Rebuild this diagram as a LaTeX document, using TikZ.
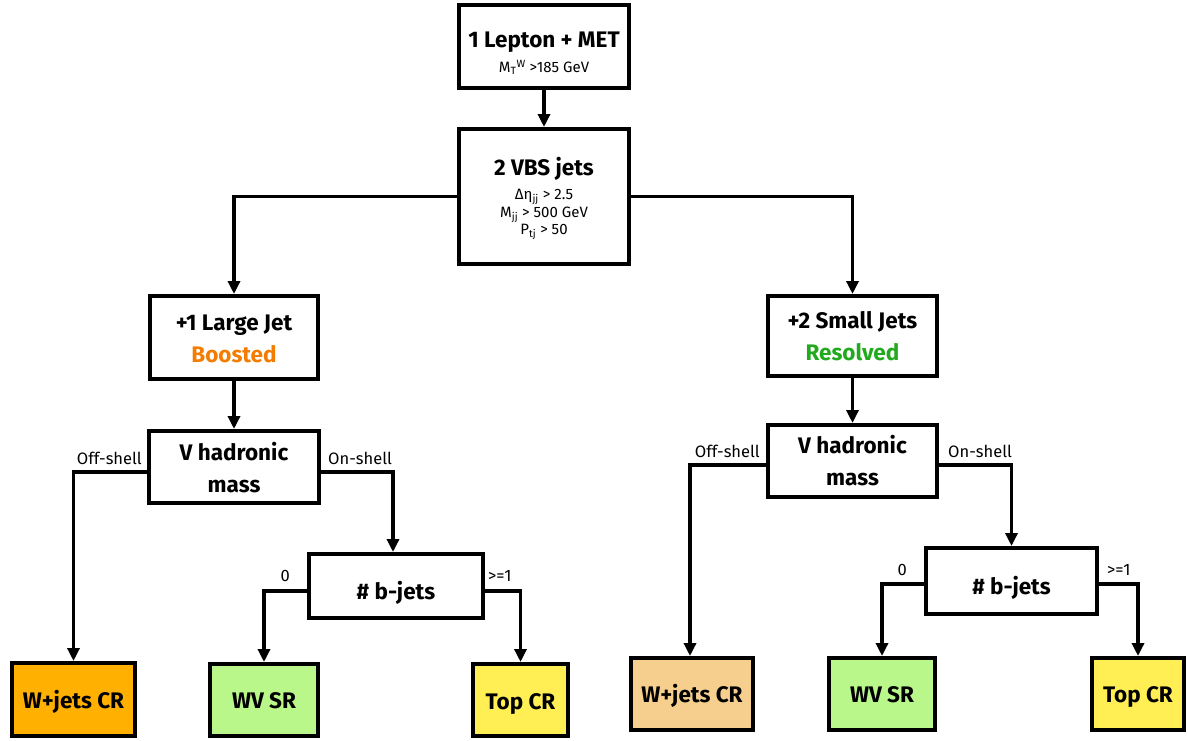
\documentclass[tikz,border=0pt]{standalone}
\usepackage{fontspec}
\setmainfont{Fira Sans}
\usetikzlibrary{arrows.meta}
\definecolor{boostc}{HTML}{F47C00}
\definecolor{resolc}{HTML}{22AA1E}
\definecolor{wjA}{HTML}{FFB000}
\definecolor{wjB}{HTML}{F6CF8F}
\definecolor{wvc}{HTML}{BAF78B}
\definecolor{topc}{HTML}{FFEF55}
\newcommand{\subf}{\normalfont\fontsize{15}{17}\selectfont}
\newcommand{\dn}[2]{\raisebox{-#1}[\height][\depth]{\begin{tabular}{@{}c@{}}#2\end{tabular}}}
\begin{document}
\begin{tikzpicture}[x=1pt,y=-1pt,
 box/.style={draw, line width=4pt, align=center, inner sep=0pt, font=\bfseries\fontsize{22.5}{28}\selectfont},
 conn/.style={line width=3.5pt, -{Triangle[length=13pt,width=12pt]}},
 lbl/.style={font=\fontsize{16.5}{18}\selectfont, inner sep=1pt}]
\useasboundingbox (0,0) rectangle (1188,740);

\node[box, minimum width=170pt, minimum height=83pt] (top) at (544,46.5)
  {\dn{8pt}{1 Lepton + MET\\[-3pt] {\subf M\textsubscript{T}\textsuperscript{W} >185 GeV}}};
\node[box, minimum width=170pt, minimum height=135pt] (vbs) at (544,196.5)
  {\dn{3pt}{2 VBS jets\\[-4pt] {\subf Δη\textsubscript{jj} > 2.5}\\[-10.5pt] {\subf M\textsubscript{jj} > 500 GeV}\\[-10.5pt] {\subf P\textsubscript{tj} > 50}}};
\node[box, minimum width=168pt, minimum height=83pt] (lj) at (234,337.5)
  {\dn{3pt}{+1 Large Jet\\[4pt] \textcolor{boostc}{Boosted}}};
\node[box, minimum width=169pt, minimum height=80pt] (sj) at (852.5,336)
  {\dn{3pt}{+2 Small Jets\\[4pt] \textcolor{resolc}{Resolved}}};
\node[box, minimum width=170pt, minimum height=72pt] (vhL) at (234,467)
  {\dn{4pt}{V hadronic\\[4pt] mass}};
\node[box, minimum width=169pt, minimum height=72pt] (vhR) at (852.5,461)
  {\dn{3pt}{V hadronic\\[4pt] mass}};
\node[box, minimum width=174pt, minimum height=64pt] (bjL) at (396,586) {\dn{8pt}{\# b-jets}};
\node[box, minimum width=171pt, minimum height=66pt] (bjR) at (1011.5,581) {\dn{8pt}{\# b-jets}};
\node[box, fill=wjA, minimum width=123pt, minimum height=73pt] (wjL) at (73.5,699.5) {\dn{3pt}{W+jets CR}};
\node[box, fill=wvc, minimum width=108pt, minimum height=72pt] (wvL) at (264,700) {\dn{3pt}{WV SR}};
\node[box, fill=topc, minimum width=95pt, minimum height=72pt] (tpL) at (520.5,700) {\dn{4pt}{Top CR}};
\node[box, fill=wjB, minimum width=122pt, minimum height=72pt] (wjR) at (692,694) {\dn{3pt}{W+jets CR}};
\node[box, fill=wvc, minimum width=106pt, minimum height=72pt] (wvR) at (882,694) {\dn{3pt}{WV SR}};
\node[box, fill=topc, minimum width=92pt, minimum height=72pt] (tpR) at (1138,694) {\dn{3pt}{Top CR}};

\draw[conn] (top) -- (vbs);
\draw[conn] (vbs.west) -| (lj.north);
\draw[conn] (vbs.east) -| (sj.north);
\draw[conn] (lj) -- (vhL);
\draw[conn] (sj) -- (vhR);

\draw[conn] ([yshift=-5pt]vhL.west) -| (wjL.north);
\draw[conn] ([yshift=-5pt]vhL.east) -| ([xshift=-3pt]bjL.north);
\draw[conn] ([yshift=-5pt]bjL.west) -| (wvL.north);
\draw[conn] ([yshift=-5pt]bjL.east) -| (tpL.north);

\draw[conn] ([yshift=-4pt]vhR.west) -| ([xshift=-2pt]wjR.north);
\draw[conn] ([yshift=-4pt]vhR.east) -| (bjR.north);
\draw[conn] ([yshift=-3pt]bjR.west) -| (wvR.north);
\draw[conn] ([yshift=-3pt]bjR.east) -| (tpR.north);

\node[lbl, anchor=south east] (l1) at ([xshift=-4pt,yshift=1pt]vhL.west) {Off-shell};
\node[lbl, anchor=south west] (l2) at ([xshift=6pt,yshift=1pt]vhL.east) {On-shell};
\node[lbl, anchor=south east] (l3) at ([xshift=-16pt,yshift=3pt]bjL.west) {0};
\node[lbl, anchor=south west] (l4) at ([xshift=2pt,yshift=3pt]bjL.east) {>=1};
\node[lbl, anchor=south east] (l5) at ([xshift=-5pt,yshift=2pt]vhR.west) {Off-shell};
\node[lbl, anchor=south west] (l6) at ([xshift=8pt,yshift=2pt]vhR.east) {On-shell};
\node[lbl, anchor=south east] (l7) at ([xshift=-16pt,yshift=4pt]bjR.west) {0};
\node[lbl, anchor=south west] (l8) at ([xshift=7pt,yshift=4pt]bjR.east) {>=1};
\end{tikzpicture}
\end{document}
